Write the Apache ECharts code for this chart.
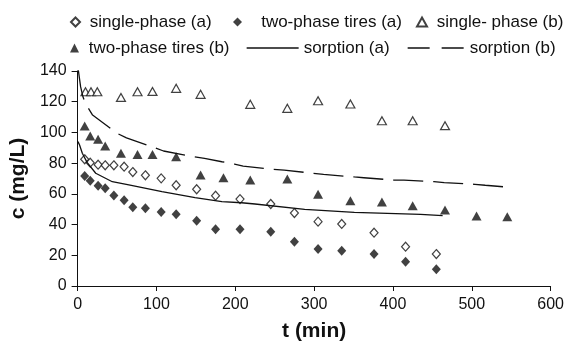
<!DOCTYPE html>
<html>
<head>
<meta charset="utf-8">
<script src="https://cdn.jsdelivr.net/npm/echarts@6/dist/echarts.min.js"></script>
<style>
  html, body { margin: 0; padding: 0; background: #fff; }
  #chart { width: 567px; height: 351px; }
</style>
</head>
<body>
<div id="chart"></div>
<script>
// measured points, [t (min), c (mg/L)]
const singlePhaseA = [[9,82.5],[16,80.3],[26,79],[35,78.6],[46,78.6],[59,77.7],[70,74.2],[86,72.1],[106,70.1],[125,65.6],
  [151,63],[175,58.8],[206,56.6],[245,53.4],[275,47.5],[305,41.9],[335,40.4],[376,34.7],[416,25.6],[455,20.8]]
const twoPhaseA = [[9,71.6],[16,68.6],[26,65.3],[35,63.6],[46,59],[59,55.8],[70,51.2],[86,50.6],[106,48.2],[125,46.7],
  [151,42.5],[175,36.9],[206,36.9],[245,35.4],[275,28.8],[305,24.1],[335,23],[376,20.8],[416,15.8],[455,10.9]]
const singlePhaseB = [[10,126.5],[17,126.5],[25,126.5],[55,122.8],[76,126.5],[95,126.7],[125,128.7],[156,124.8],
  [219,118.3],[266,115.7],[305,120.6],[346,118.5],[386,107.6],[425,107.6],[466,104.4]]
const twoPhaseB = [[9,104.2],[16,97.7],[26,95.5],[35,91.1],[55,86.4],[76,85.7],[95,85.7],[125,84.2],[156,72.3],[185,70.5],
  [219,69],[266,69.7],[305,59.7],[346,55.5],[386,54.7],[425,52.3],[466,49.5],[506,45.6],[545,45.1]]
const sorptionA = [[0.5,94],[2.5,91.8],[6,86.4],[12,80.5],[23,73.4],[44,67.9],[65,65.8],[107,61.4],[149,57.5],[183,54.9],
  [208,54.2],[225,53.4],[288,49.9],[351,48],[435,46.7],[463,45.8]]
const sorptionB = [[0.9,140.6],[3.8,129.8],[6.8,123.2],[10,118.9],[12.2,117],[19,111.3],[50,99.4],[62,96.5],[98,90],[109,87.9],
  [147,84.2],[161,83.1],[183,80.9],[199,79.4],[210,78.1],[248,76],[262,75.5],[298,73.4],[312,72.7],[351,71],[363,70.5],
  [401,69],[414,69],[452,67.9],[465,67.3],[504,66.2],[517,65.6],[547,64.3]]

const names = ['single-phase (a)', 'two-phase tires (a)', 'single- phase (b)', 'two-phase tires (b)', 'sorption (a)', 'sorption (b)']
const xTicks = { min: 0, max: 600, step: 100 }
const yTicks = { min: 0, max: 140, step: 20 }

const font = "'Liberation Sans', Arial, Helvetica, sans-serif"
const ink = '#111'

const chart = echarts.init(document.getElementById('chart'))

// one legend box per entry so each sits where the original has it
const legendItem = (name, left, top, w, h, pad, extra) => Object.assign({
  data: [name],
  left, top,
  padding: 0,
  itemWidth: w,
  itemHeight: h,
  formatter: pad + '{name}',
  textStyle: { fontFamily: font, fontSize: 17, color: ink },
  selectedMode: false
}, extra || {})

const hideSymbol = { itemStyle: { opacity: 0 } }

const option = {
  animation: false,
  backgroundColor: '#fff',
  legend: [
    legendItem(names[0], 70, 13.5, 9, 9, ' '),
    legendItem(names[1], 233, 13.5, 9, 9, '   '),
    legendItem(names[2], 416, 13.5, 10, 9, ' '),
    legendItem(names[3], 70, 39.5, 9, 9, ' '),
    legendItem(names[4], 246, 39.5, 52, 9, '', Object.assign({ lineStyle: { width: 1.3 } }, hideSymbol)),
    legendItem(names[5], 407, 39.5, 57, 9, '', Object.assign({ lineStyle: { width: 1.3, type: [22, 12] } }, hideSymbol))
  ],
  grid: { left: 75, right: 15.5, top: 71, bottom: 65 },
  xAxis: {
    type: 'value',
    min: xTicks.min, max: xTicks.max, interval: xTicks.step,
    name: 't (min)',
    nameLocation: 'middle',
    nameGap: 35,
    nameTextStyle: { fontFamily: font, fontSize: 21, fontWeight: 'bold', color: ink },
    axisLine: { lineStyle: { color: ink, width: 1 } },
    axisTick: { length: 5, lineStyle: { color: ink } },
    axisLabel: { fontFamily: font, fontSize: 16, color: ink, margin: 11 },
    splitLine: { show: false }
  },
  yAxis: {
    type: 'value',
    min: yTicks.min, max: yTicks.max, interval: yTicks.step,
    name: 'c (mg/L)',
    nameLocation: 'middle',
    nameGap: 44,
    nameTextStyle: { fontFamily: font, fontSize: 21, fontWeight: 'bold', color: ink },
    axisLine: { show: true, lineStyle: { color: ink, width: 1 } },
    axisTick: { show: true, length: 6, lineStyle: { color: ink } },
    axisLabel: { fontFamily: font, fontSize: 16, color: ink, margin: 11 },
    splitLine: { show: false }
  },
  series: [
    {
      name: names[0], type: 'scatter', data: singlePhaseA,
      symbol: 'diamond', symbolSize: [8, 9],
      itemStyle: { color: '#fff', borderColor: ink, borderWidth: 1.2 }
    },
    {
      name: names[1], type: 'scatter', data: twoPhaseA,
      symbol: 'diamond', symbolSize: [9, 10],
      itemStyle: { color: ink }
    },
    {
      name: names[2], type: 'scatter', data: singlePhaseB,
      symbol: 'triangle', symbolSize: [9, 8],
      itemStyle: { color: '#fff', borderColor: ink, borderWidth: 1.2 }
    },
    {
      name: names[3], type: 'scatter', data: twoPhaseB,
      symbol: 'triangle', symbolSize: [10, 9],
      itemStyle: { color: ink }
    },
    {
      name: names[4], type: 'line', data: sorptionA,
      symbol: 'none', showSymbol: false,
      lineStyle: { color: ink, width: 1.3 },
      itemStyle: { color: ink }
    },
    {
      name: names[5], type: 'line', data: sorptionB,
      symbol: 'none', showSymbol: false,
      lineStyle: { color: ink, width: 1.3, type: [30, 10] },
      itemStyle: { color: ink }
    }
  ]
}

chart.setOption(option)
</script>
</body>
</html>
